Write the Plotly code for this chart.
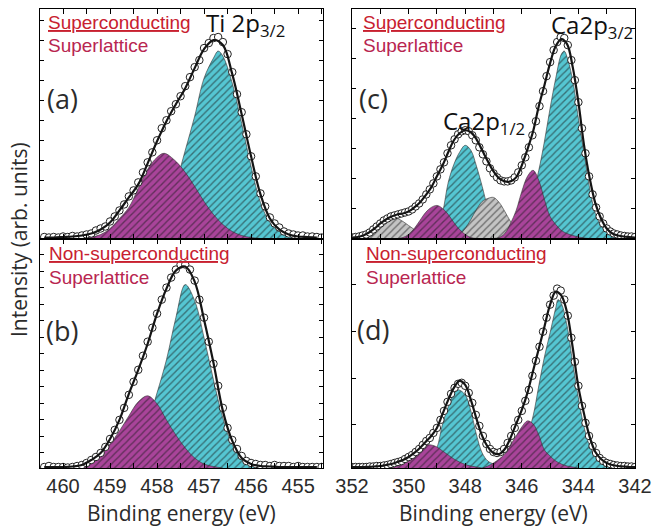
import numpy as np
import plotly.graph_objects as go
from plotly.subplots import make_subplots

# ---------------- DATA ----------------
# Panel (a): Ti 2p3/2, superconducting superlattice
a_env_E = [460.4, 460.2, 460.0, 459.8, 459.6, 459.4, 459.2, 459.0, 458.8, 458.6,
           458.4, 458.2, 458.0, 457.8, 457.6, 457.4, 457.2, 457.0, 456.8, 456.6,
           456.4, 456.2, 456.0, 455.8, 455.6, 455.4, 455.2, 455.0, 454.8, 454.6]
a_env_I = [1, 1, 1.5, 2, 3, 5, 9, 16, 28, 41,
           54, 75, 97, 117, 134, 150, 170, 189, 198, 193,
           164, 124, 82, 44, 20, 9, 4, 2, 1.5, 1]
a_cyan_E = [458.6, 458.4, 458.2, 458.0, 457.8, 457.6, 457.4, 457.2, 457.0, 456.8, 456.7,
            456.6, 456.4, 456.2, 456.0, 455.8, 455.6, 455.4, 455.2, 455.0, 454.8]
a_cyan_I = [0, 2, 6, 14, 30, 55, 88, 122, 160, 180, 187,
            182, 155, 115, 72, 36, 16, 7, 3, 1, 0]
a_mag_E = [459.8, 459.6, 459.4, 459.2, 459.0, 458.8, 458.6, 458.4, 458.2, 458.0, 457.85,
           457.6, 457.4, 457.2, 457.0, 456.8, 456.6, 456.4, 456.2, 456.0, 455.8]
a_mag_I = [0, 0.5, 1.5, 4, 10, 20, 31, 50, 69, 81, 85,
           77, 66, 52, 37, 24, 14, 7, 3, 1, 0]
a_pts_I = [1.5, 1, 1.5, 1, 2, 1.5, 2.5, 2, 3, 4,
           5, 8, 10, 12, 17, 22, 28, 34, 42, 48,
           56, 66, 76, 86, 98, 110, 118, 127, 134, 142,
           152, 161, 171, 178, 190, 195, 200, 201, 196, 184,
           166, 144, 126, 104, 82, 62, 45, 32, 21, 15,
           11, 7, 5, 4, 3, 3, 2, 2, 1.5, 1]

# Panel (b): Ti 2p3/2, non-superconducting superlattice
b_env_E = a_env_E
b_env_I = [1, 1, 1, 1.5, 3, 8, 15, 29, 48, 74,
           98, 124, 154, 179, 197, 201, 186, 148, 105, 57,
           27, 10, 4, 2, 1.5, 1, 1, 1, 1, 1]
b_cyan_E = [459.0, 458.8, 458.6, 458.4, 458.2, 458.0, 457.8, 457.6, 457.4, 457.2,
            457.0, 456.8, 456.6, 456.4, 456.2, 456.0, 455.8, 455.6]
b_cyan_I = [1, 4, 11, 24, 45, 75, 108, 150, 183, 167,
            130, 88, 50, 23, 9, 3, 1, 0]
b_mag_E = [459.8, 459.6, 459.4, 459.2, 459.0, 458.8, 458.6, 458.4, 458.2, 458.0,
           457.8, 457.6, 457.4, 457.2, 457.0, 456.8, 456.6]
b_mag_I = [0, 1, 5, 13, 24, 37, 52, 66, 72, 64,
           48, 33, 20, 10, 4, 1.5, 0]
b_pts_I = [1, 2, 1, 1, 1, 0.5, 1, 2, 3, 5,
           8, 11, 15, 21, 29, 38, 48, 60, 73, 86,
           98, 112, 126, 140, 154, 168, 180, 190, 198, 203,
           203, 198, 187, 168, 150, 126, 104, 82, 60, 40,
           28, 19, 12, 7, 5, 4, 3, 3, 2, 3,
           2, 2, 2, 1, 2, 1, 1, 1, 1, 1]

# Panel (c): Ca 2p, superconducting superlattice
c_env_E = [352.0, 351.8, 351.6, 351.4, 351.2, 351.0, 350.8, 350.6, 350.4, 350.2,
           350.0, 349.8, 349.6, 349.4, 349.2, 349.0, 348.8, 348.6, 348.4, 348.2,
           348.0, 347.8, 347.6, 347.4, 347.2, 347.0, 346.8, 346.6, 346.4, 346.2,
           346.0, 345.8, 345.6, 345.4, 345.2, 345.0, 344.8, 344.6, 344.4, 344.2,
           344.0, 343.8, 343.6, 343.4, 343.2, 343.0, 342.8, 342.6, 342.4, 342.2, 342.0]
c_env_I = [1, 1.5, 3, 6, 10, 15, 19, 22, 24, 25,
           27, 31, 36, 43, 51, 62, 73, 86, 98, 105,
           108, 106, 99, 88, 77, 67, 60, 57, 57, 61,
           73, 89, 107, 132, 153, 175, 192, 199, 194, 171,
           136, 93, 60, 35, 20, 10, 5, 3, 2, 1.5, 1]
c_gray1_E = [351.6, 351.4, 351.2, 351.0, 350.8, 350.6, 350.5, 350.4, 350.2, 350.0,
             349.8, 349.6, 349.4, 349.2, 349.0]
c_gray1_I = [0.5, 2, 5, 10, 15, 19, 20, 20, 17, 13, 9, 5, 2.5, 1, 0]
c_mag1_E = [350.4, 350.2, 350.0, 349.8, 349.6, 349.4, 349.2, 349.0, 348.8, 348.6,
            348.4, 348.2, 348.0, 347.8, 347.6]
c_mag1_I = [0, 1, 4, 10, 18, 26, 31, 33, 30, 24, 16, 9, 4, 1, 0]
c_cyan1_E = [349.4, 349.2, 349.0, 348.8, 348.6, 348.4, 348.2, 348.0, 347.8, 347.6,
             347.4, 347.2, 347.0, 346.8, 346.6, 346.4]
c_cyan1_I = [0, 3, 10, 26, 56, 74, 86, 93, 88, 72, 52, 30, 13, 5, 1, 0]
c_gray2_E = [348.6, 348.4, 348.2, 348.0, 347.8, 347.6, 347.4, 347.2, 347.0, 346.8,
             346.6, 346.4, 346.2, 346.0, 345.8, 345.6]
c_gray2_I = [0, 1, 4, 10, 19, 29, 37, 40, 41, 36, 27, 17, 9, 4, 1, 0]
c_mag2_E = [347.0, 346.8, 346.6, 346.4, 346.2, 346.0, 345.8, 345.6, 345.4, 345.2,
            345.0, 344.8, 344.6, 344.4, 344.2, 344.0, 343.8, 343.6]
c_mag2_I = [0, 1, 5, 15, 28, 47, 62, 68, 58, 39, 22, 14, 8, 5, 3, 1.5, 0.5, 0]
c_cyan2_E = [346.8, 346.6, 346.4, 346.2, 346.0, 345.8, 345.6, 345.4, 345.2, 345.0,
             344.8, 344.6, 344.5, 344.4, 344.2, 344.0, 343.8, 343.6, 343.4, 343.2,
             343.0, 342.8, 342.6, 342.4, 342.2]
c_cyan2_I = [0, 1, 3, 7, 15, 28, 45, 68, 97, 130,
             160, 184, 187, 181, 158, 120, 85, 50, 25, 13,
             7, 3, 1.5, 0.5, 0]
c_pts_I = [1, 1.5, 2, 3, 4, 6, 9, 12, 15, 18,
           20, 22, 23, 24, 25, 26, 27, 29, 32, 35,
           39, 44, 49, 55, 62, 69, 76, 85, 93, 99,
           104, 107, 108, 107, 103, 98, 91, 84, 77, 70,
           65, 61, 58, 57, 57, 58, 61, 66, 73, 81,
           91, 103, 117, 132, 147, 162, 176, 188, 196, 201,
           200, 193, 178, 158, 136, 110, 85, 62, 44, 31,
           22, 15, 10, 7, 5, 4, 3, 2.5, 2, 2,
           1.5]

# Panel (d): Ca 2p, non-superconducting superlattice
d_env_E = c_env_E
d_env_I = [1, 1, 1, 1.2, 1.5, 2, 3, 4, 6, 8,
           11, 15, 20, 26, 32, 40, 54, 68, 80, 87,
           83, 68, 49, 32, 21, 15, 14, 19, 30, 44,
           58, 75, 97, 119, 141, 163, 176, 172, 155, 120,
           81, 54, 31, 16, 9, 5, 3, 2, 1.5, 1, 1]
d_cyan1_E = [349.8, 349.6, 349.4, 349.2, 349.0, 348.8, 348.6, 348.4, 348.25, 348.0,
             347.8, 347.6, 347.4, 347.2, 347.0, 346.8, 346.6, 346.4]
d_cyan1_I = [0, 1, 4, 10, 20, 44, 61, 74, 78, 73, 57, 33, 15, 7, 4, 2, 1, 0]
d_mag1_E = [350.8, 350.6, 350.4, 350.2, 350.0, 349.8, 349.6, 349.4, 349.2, 349.0,
            348.8, 348.6, 348.4, 348.2, 348.0, 347.8, 347.6, 347.4]
d_mag1_I = [0, 0.5, 2, 5, 9, 15, 20, 23, 23, 21, 17, 13, 9, 6, 3.5, 2, 1, 0]
d_mag2_E = [347.4, 347.2, 347.0, 346.8, 346.6, 346.4, 346.2, 346.0, 345.8, 345.6,
            345.4, 345.2, 345.0, 344.8, 344.6, 344.4, 344.2, 344.0]
d_mag2_I = [0, 2, 5, 9, 14, 23, 32, 41, 47, 44, 33, 18, 12, 7, 4, 2, 1, 0]
d_cyan2_E = [346.8, 346.6, 346.4, 346.2, 346.0, 345.8, 345.6, 345.4, 345.2, 345.0,
             344.8, 344.72, 344.6, 344.4, 344.2, 344.0, 343.8, 343.6, 343.4, 343.2,
             343.0, 342.8, 342.6, 342.4]
d_cyan2_I = [0, 1, 3, 8, 18, 33, 52, 82, 111, 135,
             160, 168, 164, 142, 105, 70, 41, 22, 12, 6,
             3, 1, 0.5, 0]
d_pts_I = [1, 1, 1, 1, 1, 1.5, 1.5, 2, 2, 2.5,
           3, 4, 5, 6, 7, 9, 11, 13, 16, 19,
           23, 27, 30, 35, 40, 48, 57, 66, 74, 80,
           84, 85, 82, 75, 65, 53, 42, 32, 24, 19,
           16, 15, 16, 19, 25, 32, 40, 48, 57, 67,
           78, 92, 107, 121, 136, 150, 163, 172, 179, 177,
           168, 152, 130, 106, 82, 62, 45, 32, 22, 15,
           10, 7, 5, 4, 3, 2.5, 2, 2, 1.5, 1.5,
           1]

# measurement channel grids (binding energy, eV)
ti_pts_E = np.round(np.linspace(460.4, 454.5, len(a_pts_I)), 3)
ca_pts_E = np.round(np.linspace(352.0, 342.0, len(c_pts_I)), 3)

ti_tickvals = [460, 459, 458, 457, 456, 455]
ti_ticktext = ['460', '459', '458', '457', '456', '455']
ti_minorvals = [459.5, 458.5, 457.5, 456.5, 455.5, 454.5]
ca_tickvals = [352, 350, 348, 346, 344, 342]
ca_ticktext = ['352', '350', '348', '346', '344', '342']
ca_minorvals = [351, 349, 347, 345, 343]

# ---------------- STYLE ----------------
W, H = 653, 527
ML, MR, MT, MB = 40, 18, 9, 59
PW, PH = W - ML - MR, H - MT - MB

CYAN = '#55C6D2'
MAG = '#A9449A'
GRAY = '#C4C4C4'
HATCH = '#1a1a1a'
RED = '#C8202F'
TXT = '#2b2b2b'


def px(x, y):
    return (x - ML) / PW, (H - MB - y) / PH


fig = make_subplots(rows=2, cols=2)

panels = {
    (1, 1): dict(comps=[(a_cyan_E, a_cyan_I, CYAN), (a_mag_E, a_mag_I, MAG)],
                 env=(a_env_E, a_env_I), pts=(ti_pts_E, a_pts_I)),
    (2, 1): dict(comps=[(b_cyan_E, b_cyan_I, CYAN), (b_mag_E, b_mag_I, MAG)],
                 env=(b_env_E, b_env_I), pts=(ti_pts_E, b_pts_I)),
    (1, 2): dict(comps=[(c_cyan1_E, c_cyan1_I, CYAN), (c_cyan2_E, c_cyan2_I, CYAN),
                        (c_gray1_E, c_gray1_I, GRAY), (c_gray2_E, c_gray2_I, GRAY),
                        (c_mag1_E, c_mag1_I, MAG), (c_mag2_E, c_mag2_I, MAG)],
                 env=(c_env_E, c_env_I), pts=(ca_pts_E, c_pts_I)),
    (2, 2): dict(comps=[(d_cyan1_E, d_cyan1_I, CYAN), (d_cyan2_E, d_cyan2_I, CYAN),
                        (d_mag1_E, d_mag1_I, MAG), (d_mag2_E, d_mag2_I, MAG)],
                 env=(d_env_E, d_env_I), pts=(ca_pts_E, d_pts_I)),
}

for (r, c), p in panels.items():
    for E, I, col in p['comps']:
        fig.add_trace(go.Scatter(
            x=E, y=I, mode='lines', line=dict(color='#333333', width=0.6, shape='spline', smoothing=1.0),
            fill='tozeroy', fillcolor=col,
            fillpattern=dict(shape='/', fgcolor=HATCH, bgcolor=col, size=5, solidity=0.28),
            hoverinfo='skip', showlegend=False), row=r, col=c)
    fig.add_trace(go.Scatter(
        x=p['pts'][0], y=p['pts'][1], mode='markers',
        marker=dict(symbol='circle', size=7.5, color='white', line=dict(color='#222222', width=1)),
        showlegend=False), row=r, col=c)
    fig.add_trace(go.Scatter(
        x=p['env'][0], y=p['env'][1], mode='lines',
        line=dict(color='#151515', width=2.2, shape='spline', smoothing=1.0),
        showlegend=False), row=r, col=c)

axis_common = dict(showline=True, linecolor='black', linewidth=1, mirror='ticks',
                   ticks='inside', tickcolor='black', showgrid=False, zeroline=False,
                   automargin=False)
tickfont = dict(family='Arial, Liberation Sans, sans-serif', size=20, color=TXT)
minor_ti = dict(tickvals=ti_minorvals, ticks='inside', ticklen=5, tickcolor='black', showgrid=False)
minor_ca = dict(tickvals=ca_minorvals, ticks='inside', ticklen=5, tickcolor='black', showgrid=False)

xl = [0, (323 - ML) / PW]
xr = [(352 - ML) / PW, 1]
layout_axes = {
    'xaxis': dict(domain=xl, range=[460.49, 454.47], tickvals=ti_tickvals, ticktext=ti_ticktext,
                  minor=minor_ti, showticklabels=False, ticklen=5, **axis_common),
    'xaxis3': dict(domain=xl, range=[460.49, 454.47], tickvals=ti_tickvals, ticktext=ti_ticktext,
                   minor=minor_ti, showticklabels=True, ticklen=5, tickfont=tickfont, **axis_common),
    'xaxis2': dict(domain=xr, range=[352, 342], tickvals=ca_tickvals, ticktext=ca_ticktext,
                   minor=minor_ca, showticklabels=False, ticklen=5, **axis_common),
    'xaxis4': dict(domain=xr, range=[352, 342], tickvals=ca_tickvals, ticktext=ca_ticktext,
                   minor=minor_ca, showticklabels=True, ticklen=5, tickfont=tickfont, **axis_common),
    'yaxis': dict(domain=[0.5, 1], range=[0, 229], tickmode='linear', tick0=-2, dtick=20,
                  showticklabels=False, ticklen=4, **axis_common),
    'yaxis3': dict(domain=[0, 0.5], range=[0, 229], tickmode='linear', tick0=-1.5, dtick=16.5,
                   showticklabels=False, ticklen=4, **axis_common),
    'yaxis2': dict(domain=[0.5, 1], range=[0, 229], tickmode='linear', tick0=0, dtick=30,
                   showticklabels=False, ticklen=4, **axis_common),
    'yaxis4': dict(domain=[0, 0.5], range=[0, 229], tickmode='linear', tick0=-3.7, dtick=46.7,
                   showticklabels=False, ticklen=4, **axis_common),
}
fig.update_layout(**layout_axes)

ann = []


def add_text(text, x, y, size, color, family, xanchor='left', yanchor='middle', angle=0):
    X, Y = px(x, y)
    ann.append(dict(text=text, x=X, y=Y, xref='paper', yref='paper', showarrow=False,
                    xanchor=xanchor, yanchor=yanchor, textangle=angle,
                    font=dict(size=size, color=color, family=family)))


SANS = 'Open Sans, DejaVu Sans, sans-serif'
ARIAL = 'Arial, Liberation Sans, sans-serif'
for (x0, y0, first) in [(46, 22, 'Superconducting'), (361, 22, 'Superconducting'),
                        (47, 254, 'Non-superconducting'), (364, 254, 'Non-superconducting')]:
    add_text('<u>' + first + '</u>', x0, y0, 19, RED, ARIAL)
    add_text('Superlattice', x0, y0 + 23, 19, '#B82550', ARIAL)

add_text('(a)', 62, 98, 27, TXT, SANS, xanchor='center')
add_text('(b)', 62, 330, 27, TXT, SANS, xanchor='center')
add_text('(c)', 373, 99, 27, TXT, SANS, xanchor='center')
add_text('(d)', 373, 329, 27, TXT, SANS, xanchor='center')
add_text('Ti 2p<sub>3/2</sub>', 204, 24, 24, '#111', SANS)
add_text('Ca2p<sub>3/2</sub>', 549, 26, 24, '#111', SANS)
add_text('Ca2p<sub>1/2</sub>', 441, 122, 24, '#111', SANS)

add_text('Binding energy (eV)', 181, 513, 21, TXT, SANS, xanchor='center')
add_text('Binding energy (eV)', 493, 513, 21, TXT, SANS, xanchor='center')
add_text('Intensity (arb. units)', 19, 240, 21, TXT, SANS, xanchor='center', angle=-90)

fig.update_layout(
    width=W, height=H, margin=dict(l=ML, r=MR, t=MT, b=MB, autoexpand=False),
    paper_bgcolor='white', plot_bgcolor='white', annotations=ann, showlegend=False,
    hovermode=False,
)

fig.write_html('out.html', config={'displayModeBar': False, 'staticPlot': True},
               post_script="document.body.style.margin='0';document.body.style.padding='0';"
                           "document.body.style.overflow='hidden';")
